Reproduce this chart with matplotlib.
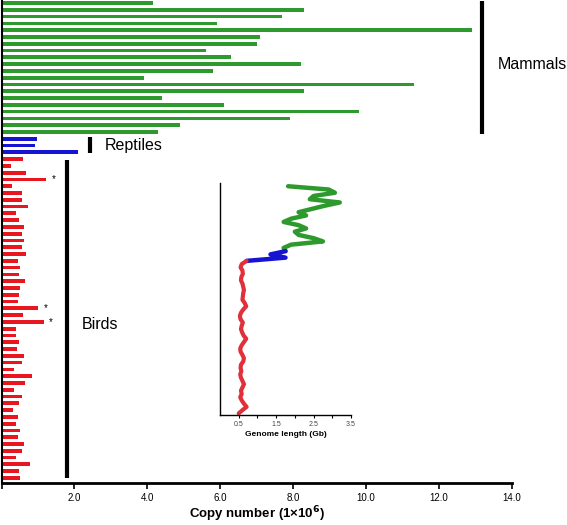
import matplotlib.pyplot as plt
import numpy as np

plt.rcParams['font.family'] = ['Liberation Sans', 'DejaVu Sans']

# copy numbers (x 10^6), top to bottom
mammals = [4.15, 8.3, 7.7, 5.9, 12.9, 7.1, 7.0, 5.6, 6.3, 8.2,
           5.8, 3.9, 11.3, 8.3, 4.4, 6.1, 9.8, 7.9, 4.9, 4.3]
reptiles = [0.96, 0.93, 2.1]
birds = [0.6, 0.27, 0.66, 1.22, 0.28, 0.55, 0.55, 0.73, 0.39, 0.48,
         0.61, 0.56, 0.62, 0.56, 0.66, 0.44, 0.52, 0.47, 0.65, 0.5,
         0.48, 0.46, 1.0, 0.58, 1.16, 0.39, 0.39, 0.48, 0.42, 0.61,
         0.56, 0.34, 0.83, 0.64, 0.34, 0.56, 0.47, 0.32, 0.45, 0.39,
         0.51, 0.46, 0.61, 0.56, 0.39, 0.78, 0.48, 0.51]
starred = [3, 22, 24]  # bird rows marked with *

# genome length (Gb), same order
mammal_gb = [1.82, 2.9, 3.07, 2.5, 2.4, 3.2, 2.8, 2.45, 2.1, 2.3,
             1.9, 1.7, 2.1, 2.3, 2.0, 2.1, 2.5, 2.75, 1.9, 1.7]
reptile_gb = [1.75, 1.35, 1.75]
bird_gb = [0.71, 0.58, 0.55, 0.60, 0.61, 0.57, 0.56, 0.60, 0.62, 0.64,
           0.62, 0.61, 0.60, 0.66, 0.70, 0.62, 0.56, 0.53, 0.55, 0.61,
           0.58, 0.56, 0.59, 0.63, 0.70, 0.64, 0.58, 0.54, 0.55, 0.60,
           0.64, 0.62, 0.56, 0.55, 0.57, 0.54, 0.56, 0.60, 0.64, 0.60,
           0.56, 0.58, 0.54, 0.58, 0.64, 0.71, 0.60, 0.50]

green = '#2e9a2e'
blue = '#1414d2'
red = '#e8161e'

values = mammals + reptiles + birds
colors = [green] * len(mammals) + [blue] * len(reptiles) + [red] * len(birds)
ypos = np.arange(len(values))
nm, nr = len(mammals), len(reptiles)

fig = plt.figure(figsize=(5.67, 5.25), dpi=100)
ax = fig.add_axes([1.5 / 567, 42 / 525, 510.5 / 567, 483 / 525])

ax.barh(ypos, values, height=0.55, color=colors)
ax.set_xlim(0, 14)
ax.set_ylim(len(values) - 0.25, -0.45)

for i in starred:
    ax.text(birds[i] + 0.15, nm + nr + i, '*', fontsize=7, va='center', ha='left')

# group brackets
ax.plot([13.18, 13.18], [-0.3, nm - 0.7], color='black', lw=3, solid_capstyle='butt')
ax.text(13.6, 9.1, 'Mammals', fontsize=11.5, va='center', ha='left')
ax.plot([2.43, 2.43], [nm - 0.3, nm + nr - 0.9], color='black', lw=3, solid_capstyle='butt')
ax.text(2.84, nm + 1, 'Reptiles', fontsize=11.5, va='center', ha='left')
ax.plot([1.8, 1.8], [nm + nr + 0.1, len(values) - 1], color='black', lw=3, solid_capstyle='butt')
ax.text(2.2, 47.4, 'Birds', fontsize=11.5, va='center', ha='left')

ax.set_yticks([])
ax.set_xticks(np.arange(0, 15, 2))
ax.set_xticklabels([''] + ['%.1f' % v for v in np.arange(2, 15, 2)], fontsize=7)
ax.tick_params(axis='x', direction='out', length=4, width=1.2, pad=3)
ax.spines['top'].set_visible(False)
ax.spines['right'].set_visible(False)
ax.spines['left'].set_linewidth(1.5)
ax.spines['bottom'].set_linewidth(2)
ax.set_xlabel('Copy number (1×10$^{\\mathbf{6}}$)', fontsize=9.5,
              fontweight='bold', labelpad=1)

# inset: genome length
ins = fig.add_axes([220 / 567, 110 / 525, 131 / 567, 232 / 525])
gb = mammal_gb + reptile_gb + bird_gb
yi = np.arange(len(gb))
ins.plot(gb[:nm + 1], yi[:nm + 1], color=green, lw=3.2, solid_capstyle='round', solid_joinstyle='round')
ins.plot(gb[nm:nm + nr + 1], yi[nm:nm + nr + 1], color=blue, lw=3.2, solid_capstyle='round', solid_joinstyle='round')
ins.plot(gb[nm + nr:], yi[nm + nr:], color='#e0303a', lw=3, solid_capstyle='round', solid_joinstyle='round')
ins.set_xlim(0, 3.5)
ins.set_ylim(len(gb) - 0.5, -1)
ins.set_yticks([])
ins.set_xticks(np.arange(0.5, 3.6, 0.5))
ins.set_xticklabels(['0.5', '', '1.5', '', '2.5', '', '3.5'], fontsize=5, color='#444444')
ins.tick_params(axis='x', direction='out', length=2.5, width=0.8, pad=2)
ins.spines['top'].set_visible(False)
ins.spines['right'].set_visible(False)
ins.spines['left'].set_linewidth(1)
ins.spines['bottom'].set_linewidth(1)
ins.set_xlabel('Genome length (Gb)', fontsize=6, fontweight='bold', labelpad=2)
ins.patch.set_alpha(0)

fig.savefig('out.png', dpi=100)
